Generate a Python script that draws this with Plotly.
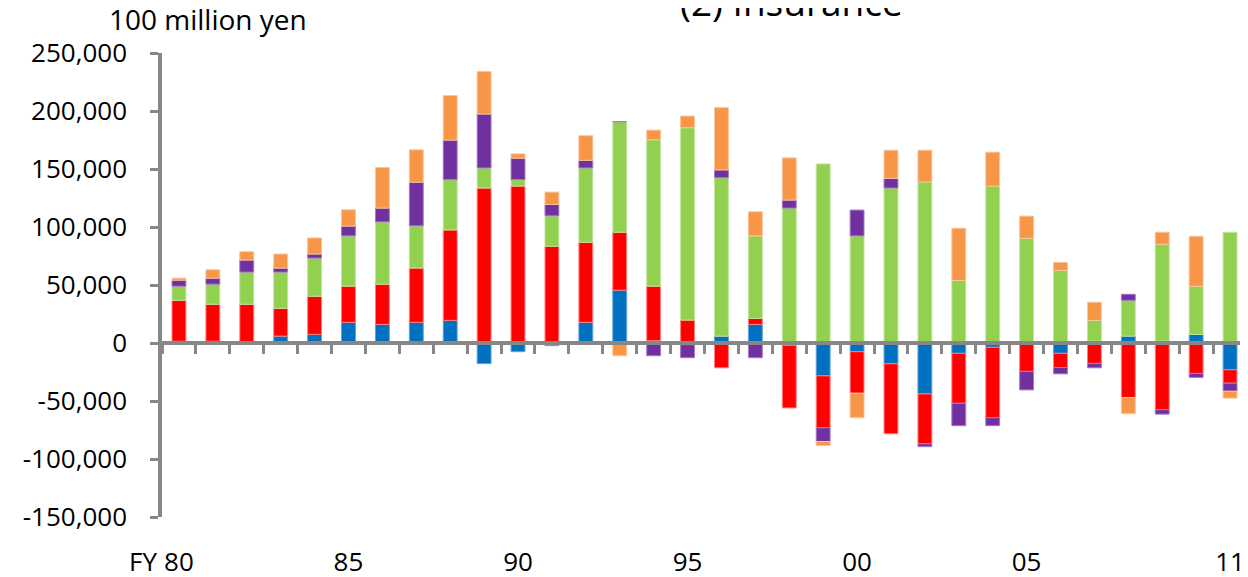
import plotly.graph_objects as go

# Fiscal years (FY80 - FY11)
years = ["80", "81", "82", "83", "84", "85", "86", "87", "88", "89",
         "90", "91", "92", "93", "94", "95", "96", "97", "98", "99",
         "00", "01", "02", "03", "04", "05", "06", "07", "08", "09",
         "10", "11"]

# Values in 100 million yen
blue = [1500, 1500, 0, 5900, 7400, 17800, 16000, 17800, 19500, -17800,
        -7500, -2300, 17800, 45500, 2000, -1500, 5900, 16000, -2000, -28300,
        -7500, -17900, -43900, -8900, -3700, 0, -8900, 1500, 5900, 1500,
        7400, -23100]
red = [35300, 31900, 33400, 24000, 32900, 31200, 34700, 46800, 78000, 133600,
       135300, 83350, 69000, 50000, 47000, 19750, -21400, 5200, -54000, -44800,
       -35800, -60350, -43000, -43100, -60700, -24500, -12200, -17600, -47050, -57450,
       -26250, -11550]
green = [12150, 17300, 27700, 31200, 32900, 43350, 53700, 36400, 43300, 17300,
         5500, 26250, 64100, 95300, 126200, 165850, 136600, 71100, 116300, 154400,
         92300, 133600, 138800, 53900, 135300, 90300, 62550, 18000, 30900, 83600,
         41550, 95500]
purple = [5200, 5200, 10400, 3450, 3500, 8400, 11900, 37550, 34100, 46500,
          18500, 9800, 6600, 0, -11000, -11200, 6700, -12700, 6900, -11800,
          22300, 8300, -2500, -19300, -6900, -15950, -5500, -3800, 5200, -3900,
          -3450, -6950]
orange = [1750, 7200, 7200, 12150, 13850, 14100, 34900, 28000, 38400, 36700,
          3750, 10700, 21200, -11000, 8300, 10050, 53700, 20800, 36400, -3500,
          -21100, 24300, 27400, 45050, 29200, 19050, 6950, 15600, -13850, 10400,
          43050, -5900]

label_years = ["80", "85", "90", "95", "00", "05", "11"]
y_ticks = [-150000, -100000, -50000, 0, 50000, 100000, 150000, 200000, 250000]
y_ticktext = ["-150,000", "-100,000", "-50,000", "0", "50,000", "100,000",
              "150,000", "200,000", "250,000"]

series = [
    ("Series 1", blue, "#0070C0", "#5FA3DA"),
    ("Series 2", red, "#FF0000", "#FF8080"),
    ("Series 3", green, "#92D050", "#C2E59F"),
    ("Series 4", purple, "#7030A0", "#A57CC4"),
    ("Series 5", orange, "#F79646", "#FBC49A"),
]

FONT = "Open Sans, sans-serif"
GRAY = "#878787"

fig = go.Figure()
for name, vals, col, edge in series:
    fig.add_trace(go.Bar(
        x=years, y=vals, name=name,
        marker=dict(color=col, line=dict(color=edge, width=1)),
        showlegend=False,
    ))

# empty carrier trace so the bottom label axis is rendered
fig.add_trace(go.Scatter(x=years, y=[None] * len(years), xaxis="x2",
                         mode="markers", showlegend=False, hoverinfo="skip"))

# page has an 8px body margin, so the figure is 1240x569
fig.update_layout(
    width=1240, height=569,
    margin=dict(l=154, r=1, t=45, b=60, autoexpand=False),
    barmode="relative",
    bargap=0.59,
    plot_bgcolor="white",
    paper_bgcolor="white",
    font=dict(family=FONT, size=26, color="black"),
    xaxis=dict(
        type="category",
        categoryorder="array", categoryarray=years,
        range=[-0.5, len(years) - 0.5],
        anchor="free", position=150000 / 400000,
        showline=True, linecolor=GRAY, linewidth=3.5,
        ticks="outside", tickson="boundaries", ticklen=9, tickwidth=3,
        tickcolor=GRAY, tickmode="linear", tick0=0, dtick=1,
        showticklabels=False, showgrid=False, zeroline=False,
        automargin=False,
    ),
    xaxis2=dict(
        overlaying="x", anchor="y", side="bottom",
        type="category", categoryorder="array", categoryarray=years,
        range=[-0.5, len(years) - 0.5],
        tickmode="array", tickvals=label_years, ticktext=label_years,
        ticks="", showline=False, showgrid=False, zeroline=False,
        ticklabelstandoff=27, automargin=False,
        tickfont=dict(family=FONT, size=26, color="black"),
    ),
    yaxis=dict(
        range=[-150000, 250000],
        tickmode="array", tickvals=y_ticks, ticktext=y_ticktext,
        showline=True, linecolor=GRAY, linewidth=3.5,
        ticks="outside", ticklen=8, tickwidth=3, tickcolor=GRAY,
        showgrid=False, zeroline=False,
        ticklabelstandoff=18, automargin=False,
        tickfont=dict(family=FONT, size=26, color="black"),
    ),
    annotations=[
        dict(text="100 million yen", xref="paper", yref="paper",
             x=(208 - 162) / 1085, y=1 + 34 / 464,
             xanchor="center", yanchor="middle", showarrow=False,
             font=dict(family=FONT, size=28, color="black")),
        dict(text="(2) Insurance", xref="paper", yref="paper",
             x=(791 - 162) / 1085, y=1 + 51.5 / 464,
             xanchor="center", yanchor="middle", showarrow=False,
             font=dict(family=FONT, size=37, color="black")),
        dict(text="FY", xref="paper", yref="paper",
             x=(143 - 162) / 1085, y=-(561 - 517) / 464,
             xanchor="center", yanchor="middle", showarrow=False,
             font=dict(family=FONT, size=26, color="black")),
    ],
)

fig.write_html("out.html")
